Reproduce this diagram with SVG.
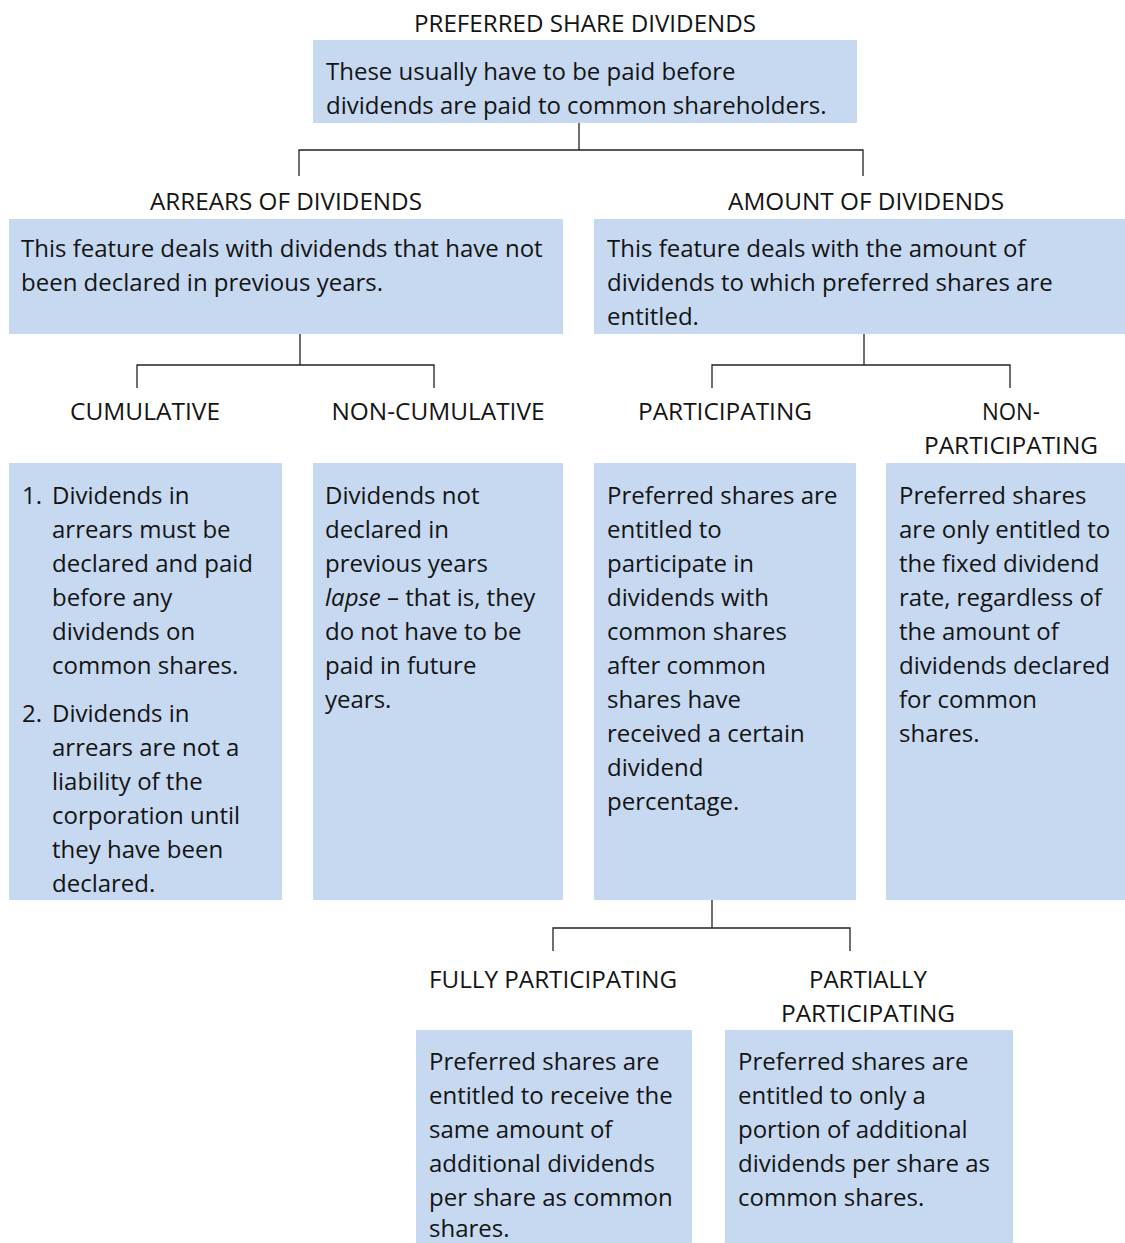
<svg xmlns="http://www.w3.org/2000/svg" width="1125" height="1243" viewBox="0 0 1125 1243">
  <style>
    .box { fill: #c6d9f0; }
    .t { font-family: "Open Sans", "Liberation Sans", sans-serif; font-size: 24px; fill: #141414; }
    .h { font-family: "Open Sans", "Liberation Sans", sans-serif; font-size: 24px; fill: #141414; text-anchor: middle; }
    .c { fill: none; stroke: #222; stroke-width: 1.3; }
  </style>
  <rect width="1125" height="1243" fill="#fff"/>

  <g id="connectors">
    <path class="c" d="M579 123 V150 M299 176 V150 H863 V176"/>
    <path class="c" d="M300 334 V365 M137 388 V365 H434 V388"/>
    <path class="c" d="M864 334 V365 M712 388 V365 H1010 V388"/>
    <path class="c" d="M712 900 V928 M553 951 V928 H850 V951"/>
  </g>

  <g id="preferred">
    <text class="h" x="585" y="32" textLength="342" lengthAdjust="spacingAndGlyphs">PREFERRED SHARE DIVIDENDS</text>
    <rect class="box" x="313" y="40" width="544" height="83"/>
    <text class="t" x="326" y="80">These usually have to be paid before</text>
    <text class="t" x="326" y="114">dividends are paid to common shareholders.</text>
  </g>

  <g id="arrears">
    <text class="h" x="286" y="210" textLength="272" lengthAdjust="spacingAndGlyphs">ARREARS OF DIVIDENDS</text>
    <rect class="box" x="9" y="219" width="554" height="115"/>
    <text class="t" x="21" y="257">This feature deals with dividends that have not</text>
    <text class="t" x="21" y="291">been declared in previous years.</text>
  </g>

  <g id="amount">
    <text class="h" x="866" y="210" textLength="276" lengthAdjust="spacingAndGlyphs">AMOUNT OF DIVIDENDS</text>
    <rect class="box" x="594" y="219" width="531" height="115"/>
    <text class="t" x="607" y="257">This feature deals with the amount of</text>
    <text class="t" x="607" y="291">dividends to which preferred shares are</text>
    <text class="t" x="607" y="325">entitled.</text>
  </g>

  <g id="cumulative">
    <text class="h" x="145" y="420" textLength="150" lengthAdjust="spacingAndGlyphs">CUMULATIVE</text>
    <rect class="box" x="9" y="463" width="273" height="437"/>
    <text class="t" x="22" y="504">1.</text>
    <text class="t" x="52" y="504">Dividends in</text>
    <text class="t" x="52" y="538">arrears must be</text>
    <text class="t" x="52" y="572">declared and paid</text>
    <text class="t" x="52" y="606">before any</text>
    <text class="t" x="52" y="640">dividends on</text>
    <text class="t" x="52" y="674">common shares.</text>
    <text class="t" x="22" y="722">2.</text>
    <text class="t" x="52" y="722">Dividends in</text>
    <text class="t" x="52" y="756">arrears are not a</text>
    <text class="t" x="52" y="790">liability of the</text>
    <text class="t" x="52" y="824">corporation until</text>
    <text class="t" x="52" y="858">they have been</text>
    <text class="t" x="52" y="892">declared.</text>
  </g>

  <g id="non-cumulative">
    <text class="h" x="438" y="420" textLength="213" lengthAdjust="spacingAndGlyphs">NON-CUMULATIVE</text>
    <rect class="box" x="313" y="463" width="250" height="437"/>
    <text class="t" x="325" y="504">Dividends not</text>
    <text class="t" x="325" y="538">declared in</text>
    <text class="t" x="325" y="572">previous years</text>
    <text class="t" x="325" y="606"><tspan font-style="italic">lapse</tspan> – that is, they</text>
    <text class="t" x="325" y="640">do not have to be</text>
    <text class="t" x="325" y="674">paid in future</text>
    <text class="t" x="325" y="708">years.</text>
  </g>

  <g id="participating">
    <text class="h" x="725" y="420" textLength="174" lengthAdjust="spacingAndGlyphs">PARTICIPATING</text>
    <rect class="box" x="594" y="463" width="262" height="437"/>
    <text class="t" x="607" y="504">Preferred shares are</text>
    <text class="t" x="607" y="538">entitled to</text>
    <text class="t" x="607" y="572">participate in</text>
    <text class="t" x="607" y="606">dividends with</text>
    <text class="t" x="607" y="640">common shares</text>
    <text class="t" x="607" y="674">after common</text>
    <text class="t" x="607" y="708">shares have</text>
    <text class="t" x="607" y="742">received a certain</text>
    <text class="t" x="607" y="776">dividend</text>
    <text class="t" x="607" y="810">percentage.</text>
  </g>

  <g id="non-participating">
    <text class="h" x="1011" y="420" textLength="58" lengthAdjust="spacingAndGlyphs">NON-</text>
    <text class="h" x="1011" y="454" textLength="174" lengthAdjust="spacingAndGlyphs">PARTICIPATING</text>
    <rect class="box" x="886" y="463" width="239" height="437"/>
    <text class="t" x="899" y="504">Preferred shares</text>
    <text class="t" x="899" y="538">are only entitled to</text>
    <text class="t" x="899" y="572">the fixed dividend</text>
    <text class="t" x="899" y="606">rate, regardless of</text>
    <text class="t" x="899" y="640">the amount of</text>
    <text class="t" x="899" y="674">dividends declared</text>
    <text class="t" x="899" y="708">for common</text>
    <text class="t" x="899" y="742">shares.</text>
  </g>

  <g id="fully-participating">
    <text class="h" x="553" y="988" textLength="248" lengthAdjust="spacingAndGlyphs">FULLY PARTICIPATING</text>
    <rect class="box" x="416" y="1030" width="276" height="213"/>
    <text class="t" x="429" y="1070">Preferred shares are</text>
    <text class="t" x="429" y="1104">entitled to receive the</text>
    <text class="t" x="429" y="1138">same amount of</text>
    <text class="t" x="429" y="1172">additional dividends</text>
    <text class="t" x="429" y="1206">per share as common</text>
    <text class="t" x="429" y="1237">shares.</text>
  </g>

  <g id="partially-participating">
    <text class="h" x="868" y="988" textLength="118" lengthAdjust="spacingAndGlyphs">PARTIALLY</text>
    <text class="h" x="868" y="1022" textLength="174" lengthAdjust="spacingAndGlyphs">PARTICIPATING</text>
    <rect class="box" x="725" y="1030" width="288" height="213"/>
    <text class="t" x="738" y="1070">Preferred shares are</text>
    <text class="t" x="738" y="1104">entitled to only a</text>
    <text class="t" x="738" y="1138">portion of additional</text>
    <text class="t" x="738" y="1172">dividends per share as</text>
    <text class="t" x="738" y="1206">common shares.</text>
  </g>
</svg>
